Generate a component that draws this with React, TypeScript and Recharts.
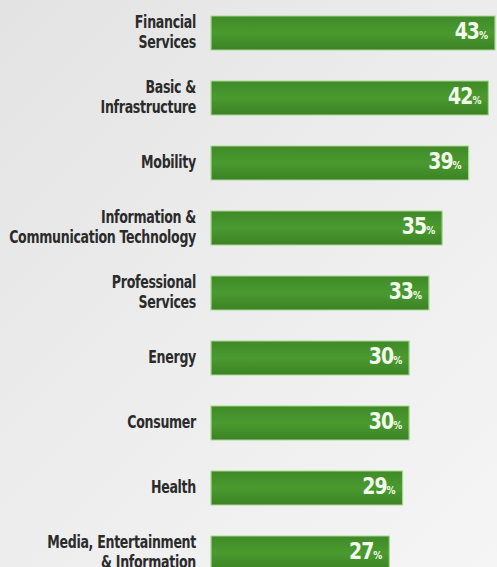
import React from "react";
import { BarChart, Bar, XAxis, YAxis, LabelList } from "recharts";

const categories = [
  "Financial\nServices",
  "Basic &\nInfrastructure",
  "Mobility",
  "Information &\nCommunication Technology",
  "Professional\nServices",
  "Energy",
  "Consumer",
  "Health",
  "Media, Entertainment\n& Information",
];
const values = [43, 42, 39, 35, 33, 30, 30, 29, 27];

const data = categories.map((c, i) => ({ name: c, value: values[i] }));

const FONT = "'DejaVu Sans Condensed', 'Liberation Sans Narrow', sans-serif";

const CategoryTick = (props: any) => {
  const { x, y, payload } = props;
  const lines = String(payload.value).split("\n");
  const lh = 15;
  const start = -((lines.length - 1) * lh) / 2;
  return (
    <g transform={`translate(${x},${y - 1}) scale(1,1.3)`}>
      <text
        x={0}
        y={0}
        textAnchor="end"
        fill="#2b2b2b"
        fontFamily={FONT}
        fontWeight="bold"
        fontSize={14}
        letterSpacing={-0.3}
      >
        {lines.map((l, i) => (
          <tspan key={i} x={0} y={start + i * lh} dy="0.36em">
            {l}
          </tspan>
        ))}
      </text>
    </g>
  );
};

const ValueLabel = (props: any) => {
  const { x, y, width, height, value } = props;
  const cx = x + width - 7;
  const cy = y + height / 2;
  return (
    <g transform={`translate(${cx},${cy}) scale(1,1.1)`}>
      <text
        x={0}
        y={0}
        dy="0.36em"
        textAnchor="end"
        fill="#f2fbec"
        fontFamily={FONT}
        fontWeight="bold"
      >
        <tspan fontSize={21} letterSpacing={-1}>{value}</tspan>
        <tspan fontSize={10}>%</tspan>
      </text>
    </g>
  );
};

export default function App() {
  return (
    <div
      style={{
        position: "absolute",
        left: 0,
        top: 0,
        width: 497,
        height: 567,
        overflow: "hidden",
        background: "linear-gradient(135deg, #e3e3e3 0%, #ececec 45%, #f5f5f5 100%)",
      }}
    >
      <BarChart
        width={497}
        height={585}
        data={data}
        layout="vertical"
        margin={{ top: 0, right: 2, bottom: 0, left: 0 }}
      >
        <defs>
          <linearGradient id="barFill" x1="0" y1="0" x2="0" y2="1">
            <stop offset="0%" stopColor="#3f8a27" />
            <stop offset="50%" stopColor="#4a9a30" />
            <stop offset="100%" stopColor="#3b8224" />
          </linearGradient>
        </defs>
        <XAxis type="number" domain={[0, 43]} hide />
        <YAxis
          type="category"
          dataKey="name"
          width={211}
          axisLine={false}
          tickLine={false}
          tick={<CategoryTick />}
          tickMargin={9}
          interval={0}
        />
        <Bar
          dataKey="value"
          barSize={34}
          fill="url(#barFill)"
          stroke="#a8d890"
          strokeWidth={1.2}
          isAnimationActive={false}
        >
          <LabelList dataKey="value" content={<ValueLabel />} />
        </Bar>
      </BarChart>
    </div>
  );
}
